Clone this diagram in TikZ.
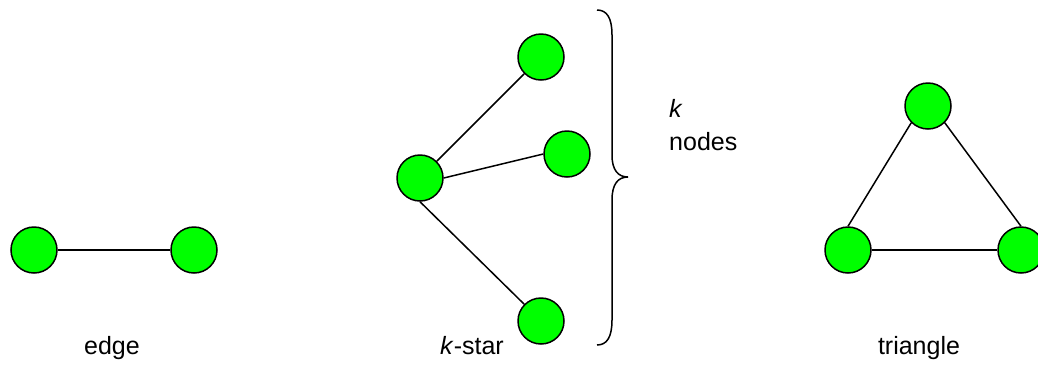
\documentclass[tikz,border=0pt]{standalone}
\usepackage{fontspec}
\setmainfont{Liberation Sans}
\definecolor{nodegreen}{HTML}{00FF00}
\begin{document}
\begin{tikzpicture}[x=1pt,y=-1pt,
  vert/.style={circle,draw=black,fill=nodegreen,line width=1.5pt,minimum size=46pt,inner sep=0pt},
  link/.style={line width=1.5pt},
  lbl/.style={font=\fontsize{25}{30}\selectfont,inner sep=0pt,anchor=base}]
\useasboundingbox (0,0) rectangle (1038,365);
% edge
\node[vert] (e1) at (34,250) {};
\node[vert] (e2) at (194,250) {};
\draw[link] (e1.east) -- (e2.west);
\node[lbl] (elabel) at (112,354) {edge};
% k-star
\node[vert] (c) at (420,178) {};
\node[vert] (t) at (541,57) {};
\node[vert] (m) at (567,154) {};
\node[vert] (b) at (541,321) {};
\draw[link] (c.north east) -- (t.south west);
\draw[link] (c.east) -- (m.west);
\draw[link] (c.south) -- (b.north west);
\node[lbl] (klabel) at (472,354) {\textit{k}-star};
% brace
\draw[line width=1.5pt] (597,10) .. controls (607,10) and (612,18) .. (612,35) -- (612,155)
  .. controls (612,170) and (618,177) .. (628,177)
  .. controls (618,177) and (612,184) .. (612,200) -- (612,320)
  .. controls (612,337) and (607,345) .. (597,345);
\node[lbl,anchor=base west] (kk) at (669,117) {\textit{k}};
\node[lbl,anchor=base west] (nodes) at (669,150) {nodes};
% triangle
\node[vert] (tt) at (928,106) {};
\node[vert] (tl) at (848,250) {};
\node[vert] (tr) at (1021,250) {};
\draw[link] (tl.north) -- (tt.south west);
\draw[link] (tt.south east) -- (tr.north);
\draw[link] (tl.east) -- (tr.west);
\node[lbl] (tlabel) at (919,354) {triangle};
\end{tikzpicture}
\end{document}
